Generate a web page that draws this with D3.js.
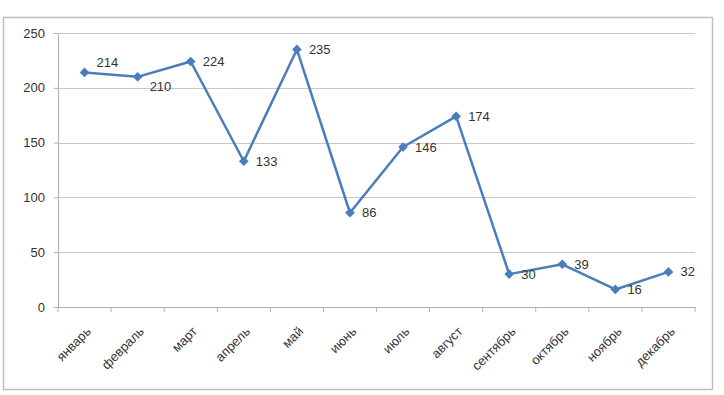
<!DOCTYPE html>
<html lang="ru">
<head>
  <meta charset="UTF-8">
  <title>Линейный график по месяцам</title>
  <script src="https://d3js.org/d3.v7.min.js"></script>
  <style>
    body { margin: 0; background: #fff; font-family: "Liberation Sans", Arial, sans-serif; }
    #chart { display: block; }
    .tick text { fill: #333; }
  </style>
</head>
<body>
<div id="chart"></div>
<script>
  // данные
  const months = ["январь", "февраль", "март", "апрель", "май", "июнь",
                  "июль", "август", "сентябрь", "октябрь", "ноябрь", "декабрь"];
  const values = [214, 210, 224, 133, 235, 86, 146, 174, 30, 39, 16, 32];
  const yTicks = [0, 50, 100, 150, 200, 250];

  const W = 724, H = 395;
  const margin = {top: 33, right: 29, bottom: 88, left: 58};
  const width = W - margin.left - margin.right,
        height = H - margin.top - margin.bottom;

  const root = d3.select("#chart").append("svg")
    .attr("width", W).attr("height", H);

  // рамка диаграммы
  root.append("rect")
    .attr("x", 3.5).attr("y", 17.5)
    .attr("width", 709).attr("height", 372)
    .attr("fill", "none").attr("stroke", "#bfbfbf").attr("stroke-width", 1.5);

  const svg = root.append("g")
    .attr("transform", `translate(${margin.left},${margin.top})`);

  const x = d3.scaleBand().domain(months).range([0, width]);
  const y = d3.scaleLinear().domain([0, 250]).range([height, 0]);

  // сетка
  svg.selectAll("line.grid")
    .data(yTicks.filter(d => d > 0))
    .enter().append("line")
    .attr("class", "grid")
    .attr("x1", 0).attr("x2", width)
    .attr("y1", d => Math.round(y(d)) + 0.5).attr("y2", d => Math.round(y(d)) + 0.5)
    .attr("stroke", "#c8c8c8").attr("stroke-width", 1.2);

  // ось Y
  const yAxis = svg.append("g")
    .call(d3.axisLeft(y).tickValues(yTicks).tickSize(4).tickPadding(9));
  yAxis.select(".domain").attr("stroke", "#b0b0b0");
  yAxis.selectAll(".tick line").attr("stroke", "#b0b0b0");
  yAxis.selectAll("text").style("font-size", "13px");

  // ось X: деления на границах категорий
  const xAxis = svg.append("g")
    .attr("transform", `translate(0,${height})`)
    .call(d3.axisBottom(x).tickSize(0));
  xAxis.select(".domain").attr("stroke", "#b0b0b0");
  xAxis.selectAll("text")
    .style("font-size", "13px")
    .style("text-anchor", "end")
    .attr("x", 0).attr("y", 0)
    .attr("dy", "0.35em")
    .attr("transform", "translate(4,22) rotate(-45)");

  const bounds = d3.range(months.length + 1).map(i => i * x.bandwidth());
  svg.selectAll("line.xtick")
    .data(bounds)
    .enter().append("line")
    .attr("class", "xtick")
    .attr("x1", d => d).attr("x2", d => d)
    .attr("y1", height).attr("y2", height + 5)
    .attr("stroke", "#b0b0b0");

  const data = months.map((m, i) => ({month: m, value: values[i]}));
  const cx = d => x(d.month) + x.bandwidth() / 2;

  // линия
  svg.append("path")
    .datum(data)
    .attr("fill", "none")
    .attr("stroke", "#4a7ebb")
    .attr("stroke-width", 2.5)
    .attr("stroke-linejoin", "round")
    .attr("d", d3.line().x(cx).y(d => y(d.value)));

  // маркеры-ромбы
  svg.selectAll("path.marker")
    .data(data)
    .enter().append("path")
    .attr("class", "marker")
    .attr("d", d3.symbol().type(d3.symbolDiamond2).size(60))
    .attr("transform", d => `translate(${cx(d)},${y(d.value)})`)
    .attr("fill", "#4a7ebb");

  // подписи значений
  const labelShift = {0: -10, 1: 10};
  svg.selectAll("text.lbl")
    .data(data)
    .enter().append("text")
    .attr("class", "lbl")
    .attr("x", d => cx(d) + 12)
    .attr("y", (d, i) => y(d.value) + (labelShift[i] || 0))
    .attr("dy", "0.35em")
    .style("font-size", "13px")
    .attr("fill", "#333")
    .text(d => d.value);
</script>
</body>
</html>
